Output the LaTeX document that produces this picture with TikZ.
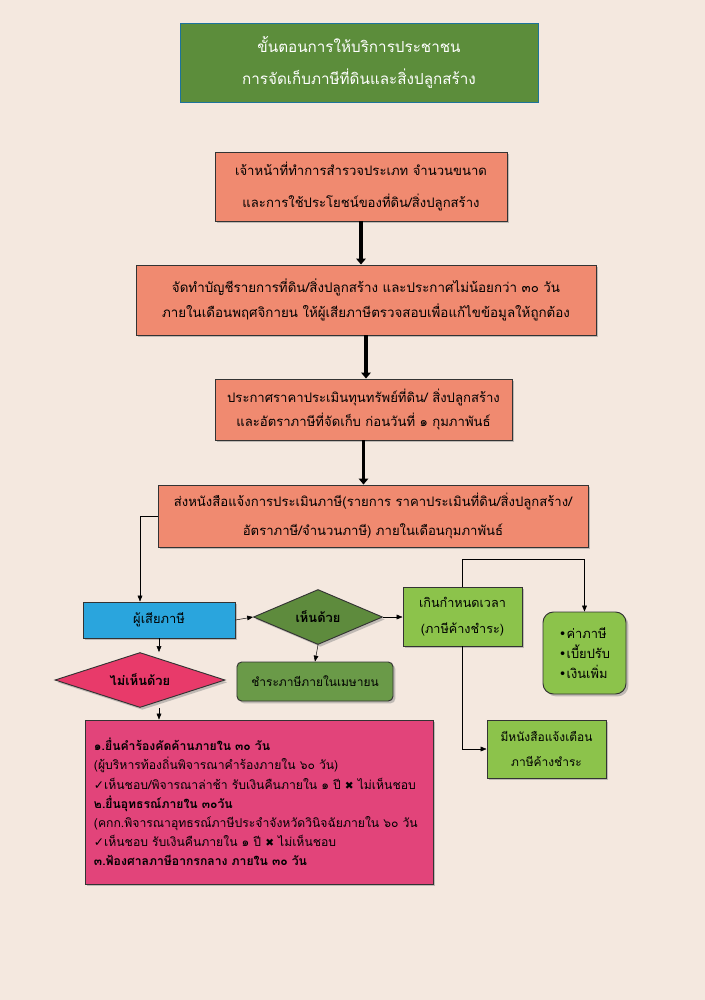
\documentclass[tikz,border=0pt]{standalone}
\usepackage{fontspec}
\setmainfont[Script=Thai]{Loma}
\newfontfamily\symfont{DejaVu Sans}
\usetikzlibrary{shapes.geometric,shadows,arrows.meta}

\definecolor{paper}{HTML}{F4E8DF}
\definecolor{titlegreen}{HTML}{5C8D3B}
\definecolor{salmon}{HTML}{F08A70}
\definecolor{skyblue}{HTML}{2AA5DD}
\definecolor{olive}{HTML}{5E8B3D}
\definecolor{paygreen}{HTML}{6A9A48}
\definecolor{lightgreen}{HTML}{8CC34B}
\definecolor{rosered}{HTML}{E83A6A}
\definecolor{boxred}{HTML}{E2447A}

\tikzset{
  shade3/.style={drop shadow={shadow xshift=2pt,shadow yshift=-2pt,opacity=0.45}},
  stepbox/.style={draw=black!80,line width=0.8pt,fill=salmon,align=center,inner sep=0,shade3},
  thickarr/.style={line width=3.2pt,-{Triangle[length=5pt,width=8pt]}},
  arr/.style={thin,-{Triangle[length=5pt,width=4pt]}},
}

\begin{document}
\begin{tikzpicture}[x=0.03cm,y=-0.03cm]
  \fill[paper] (0,0) rectangle (705,1000);
  \useasboundingbox (0,0) rectangle (705,1000);

  % title
  \node[draw=skyblue!70!black,fill=titlegreen,text=white,align=center,
    minimum width=10.74cm,minimum height=2.37cm,font=\fontsize{13}{28}\selectfont]
    (title) at (359,62.5) {ขั้นตอนการให้บริการประชาชน\\การจัดเก็บภาษีที่ดินและสิ่งปลูกสร้าง};

  % main steps
  \node[stepbox,minimum width=8.76cm,minimum height=2.07cm,font=\fontsize{11.2}{28}\selectfont]
    (survey) at (361,186.5)
    {เจ้าหน้าที่ทำการสำรวจประเภท จำนวนขนาด\\และการใช้ประโยชน์ของที่ดิน/สิ่งปลูกสร้าง};
  \node[stepbox,minimum width=13.8cm,minimum height=2.1cm,font=\fontsize{11.4}{21}\selectfont]
    (listing) at (366,300)
    {จัดทำบัญชีรายการที่ดิน/สิ่งปลูกสร้าง และประกาศไม่น้อยกว่า ๓๐ วัน\\ภายในเดือนพฤศจิกายน ให้ผู้เสียภาษีตรวจสอบเพื่อแก้ไขข้อมูลให้ถูกต้อง};
  \node[stepbox,minimum width=8.91cm,minimum height=1.83cm,font=\fontsize{11.2}{21}\selectfont]
    (price) at (363.5,409.5)
    {ประกาศราคาประเมินทุนทรัพย์ที่ดิน/ สิ่งปลูกสร้าง\\และอัตราภาษีที่จัดเก็บ ก่อนวันที่ ๑ กุมภาพันธ์};
  \node[stepbox,minimum width=12.9cm,minimum height=1.86cm,font=\fontsize{11.2}{25}\selectfont]
    (notify) at (373,516)
    {ส่งหนังสือแจ้งการประเมินภาษี(รายการ ราคาประเมินที่ดิน/สิ่งปลูกสร้าง/\\อัตราภาษี/จำนวนภาษี) ภายในเดือนกุมภาพันธ์};

  \draw[thickarr] (survey.south) -- (survey.south |- listing.north);
  \draw[thickarr] (listing.south) -- (listing.south |- price.north);
  \draw[thickarr] (price.south) -- (price.south |- notify.north);

  % taxpayer branch
  \node[draw=black!80,line width=0.8pt,fill=skyblue,minimum width=4.56cm,minimum height=1.08cm,shade3,
    font=\fontsize{11}{14}\selectfont] (payer) at (159,620) {ผู้เสียภาษี};
  \node[diamond,aspect=2.35,draw=black!80,line width=0.8pt,fill=olive,minimum width=3.87cm,
    minimum height=1.65cm,inner sep=0,shade3,font=\fontsize{11}{14}\selectfont\bfseries]
    (agree) at (318,617) {เห็นด้วย};
  \node[diamond,aspect=3.1,draw=black!80,line width=0.8pt,fill=rosered,minimum width=5.1cm,
    minimum height=1.65cm,inner sep=0,shade3,font=\fontsize{11}{14}\selectfont\bfseries]
    (disagree) at (140,680) {ไม่เห็นด้วย};
  \node[draw=black!80,line width=0.8pt,fill=paygreen,rounded corners=4pt,minimum width=4.68cm,
    minimum height=1.17cm,shade3,font=\fontsize{10.2}{14}\selectfont] (pay) at (315,681.5)
    {ชำระภาษีภายในเมษายน};

  \node[draw=black!80,line width=0.8pt,fill=lightgreen,align=center,minimum width=3.57cm,
    minimum height=1.77cm,inner sep=0,shade3,font=\fontsize{10.8}{22}\selectfont]
    (overdue) at (462.5,616.5) {เกินกำหนดเวลา\\(ภาษีค้างชำระ)};
  \node[draw=black!80,line width=0.8pt,fill=lightgreen,rounded corners=9pt,align=left,
    minimum width=2.49cm,minimum height=2.46cm,inner sep=0,shade3,
    font=\fontsize{11}{17}\selectfont] (fines) at (584.5,653)
    {{\symfont •}ค่าภาษี\\{\symfont •}เบี้ยปรับ\\{\symfont •}เงินเพิ่ม};
  \node[draw=black!80,line width=0.8pt,fill=lightgreen,align=center,minimum width=3.57cm,
    minimum height=1.74cm,inner sep=0,shade3,font=\fontsize{10.2}{22}\selectfont]
    (warning) at (546.5,749) {มีหนังสือแจ้งเตือน\\ภาษีค้างชำระ};

  \node[draw=black!80,line width=0.8pt,fill=boxred,align=left,text width=9.9cm,inner xsep=0.27cm,
    minimum height=4.92cm,shade3,font=\fontsize{10.4}{16.4}\selectfont] (appeal) at (259,802)
    {\textbf{๑.ยื่นคำร้องคัดค้านภายใน ๓๐ วัน}\\
     (ผู้บริหารท้องถิ่นพิจารณาคำร้องภายใน ๖๐ วัน)\\
     {\symfont ✓}เห็นชอบ/พิจารณาล่าช้า รับเงินคืนภายใน ๑ ปี {\symfont\small ✖} ไม่เห็นชอบ\\
     \textbf{๒.ยื่นอุทธรณ์ภายใน ๓๐วัน}\\
     (คกก.พิจารณาอุทธรณ์ภาษีประจำจังหวัดวินิจฉัยภายใน ๖๐ วัน\\
     {\symfont ✓}เห็นชอบ รับเงินคืนภายใน ๑ ปี {\symfont\small ✖} ไม่เห็นชอบ\\
     \textbf{๓.ฟ้องศาลภาษีอากรกลาง ภายใน ๓๐ วัน}};

  \draw[arr] (notify.west) -| (payer.north -| disagree.north);
  \draw[arr] (payer.east) -- (agree.west);
  \draw[arr] (agree.east) -- (agree.east -| overdue.west);
  \draw[arr] (agree.south) -- (pay.north);
  \draw[arr] (payer.south) -- (payer.south |- disagree.north);
  \draw[arr] (payer.south |- disagree.south) -- (payer.south |- appeal.north);
  \draw[arr] (overdue.north) -- ++(0,-27) -| (fines.north);
  \draw[arr] (overdue.south) |- (warning.west);
\end{tikzpicture}
\end{document}
